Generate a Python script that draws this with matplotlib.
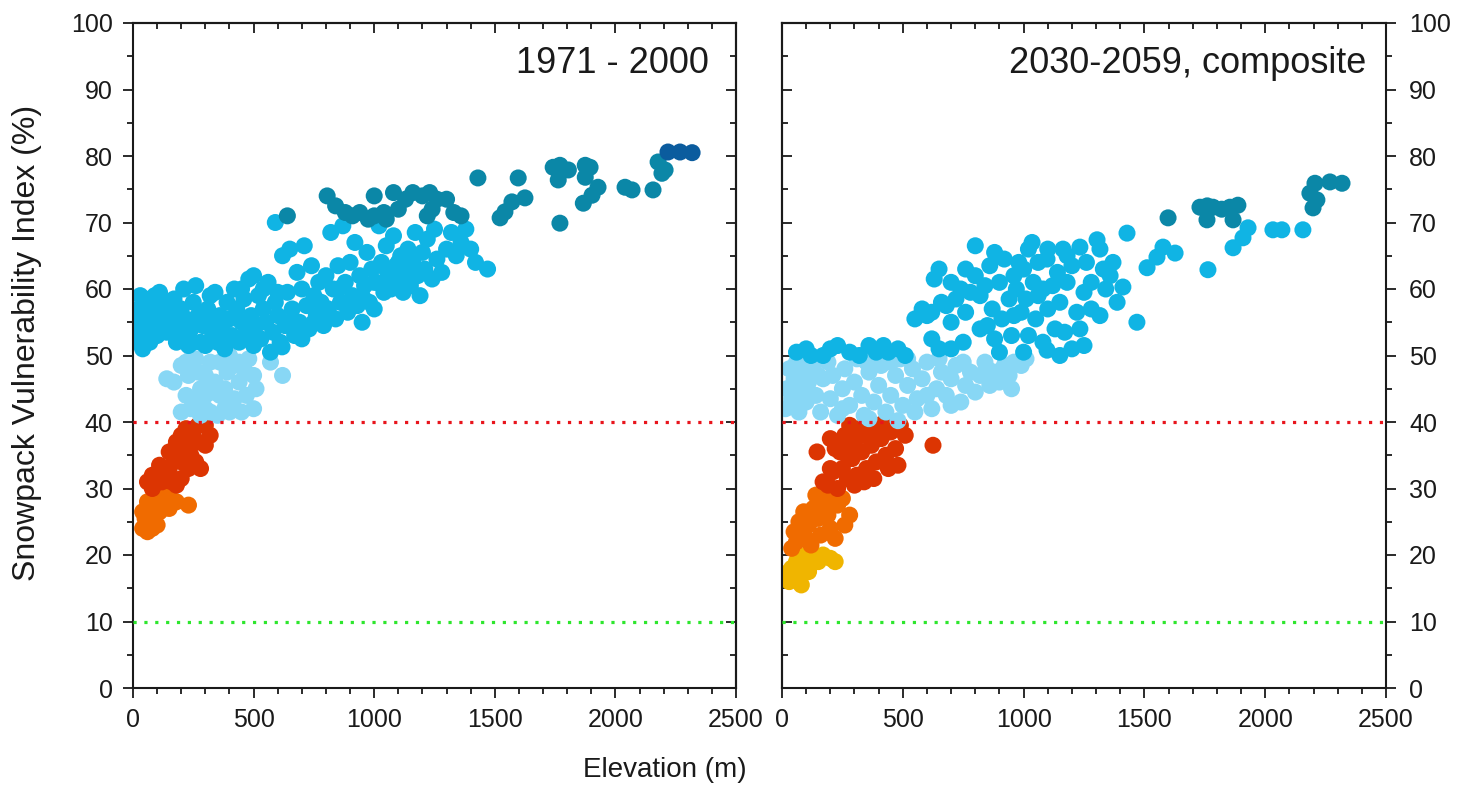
import numpy as np
import matplotlib
matplotlib.use("Agg")
import matplotlib.pyplot as plt
from matplotlib.ticker import MultipleLocator

plt.rcParams['font.family'] = ['Liberation Sans', 'DejaVu Sans']

# ---------------- data: (elevation m, SVI %) ----------------
# 1971 - 2000
hist_orange = [(40, 24), (60, 23.5), (80, 24), (100, 24.5), (50, 25.5), (70, 26), (90, 27), (110, 26.5),
               (130, 27.5), (60, 28), (90, 29), (150, 27), (180, 28), (230, 27.5), (40, 26.5), (120, 28.5),
               (100, 29.5), (70, 24.5), (150, 29)]
hist_red = [(60, 31), (80, 32), (100, 31.5), (120, 31), (140, 32.5), (160, 31), (180, 30.5), (200, 31.5),
            (80, 30), (110, 33.5), (150, 33), (170, 34.5), (190, 35.5), (210, 36), (230, 37.5), (250, 38.5),
            (270, 39.5), (200, 38), (180, 37), (220, 39), (240, 35), (260, 34), (280, 33), (300, 36.5),
            (320, 38), (300, 39.5), (150, 35.5), (230, 33), (270, 37), (200, 34)]
hist_lightblue = [(140, 46.5), (170, 46), (200, 48.5), (220, 44), (240, 42), (200, 41.5), (260, 43), (280, 45),
                  (300, 47), (320, 49), (340, 46), (360, 44), (380, 42), (400, 41.5), (420, 43.5), (440, 46),
                  (460, 48), (480, 49.5), (500, 47), (360, 49), (300, 42), (260, 49.5), (420, 48.5), (470, 44),
                  (500, 42), (330, 44.5), (390, 47.5), (450, 41.5), (230, 47), (270, 47.5), (570, 49), (620, 47),
                  (240, 49.5), (400, 50), (350, 41), (510, 45), (280, 41), (320, 41.5), (380, 45), (440, 49),
                  (300, 44), (220, 49)]
hist_blue = [(20, 52), (20, 55), (25, 57), (30, 53.5), (40, 51), (40, 56), (50, 58.5), (60, 54), (60, 57),
             (70, 52), (80, 55.5), (90, 59), (100, 57), (100, 53), (120, 55), (130, 58), (140, 53.5), (150, 56),
             (160, 54), (170, 58.5), (180, 52), (190, 55), (200, 57), (200, 53),
             (210, 60), (220, 55.5), (230, 51.5), (240, 54), (250, 58), (260, 60.5), (270, 56), (280, 52),
             (290, 54.5), (300, 51.5), (310, 57), (320, 55), (330, 53), (340, 59.5), (350, 52), (360, 56),
             (370, 54), (380, 51), (390, 58), (400, 55.5),
             (410, 53), (420, 60), (430, 57), (440, 52), (450, 55), (460, 58.5), (470, 53.5), (480, 61.5),
             (490, 56), (500, 51.5), (510, 54.5), (520, 59), (530, 52.5), (540, 57), (550, 55), (560, 61),
             (570, 50.5), (580, 53.5), (590, 58), (600, 56),
             (610, 52), (620, 65), (630, 54.5), (640, 59.5), (650, 66), (660, 57), (670, 53), (680, 62.5),
             (690, 55), (700, 60), (710, 66.5), (720, 57.5), (730, 54), (740, 63.5), (750, 59), (760, 56),
             (770, 61), (780, 58), (790, 54.5), (800, 62),
             (810, 57), (820, 68.5), (830, 60), (840, 55.5), (850, 63.5), (860, 58), (870, 69.5), (880, 61),
             (890, 56.5), (900, 64), (910, 59), (920, 67), (930, 57.5), (940, 62), (950, 55), (960, 60.5),
             (970, 65.5), (980, 58), (990, 63), (1000, 57),
             (1010, 61), (1020, 69.5), (1030, 64), (1040, 59.5), (1050, 66.5), (1060, 62), (1070, 60),
             (1080, 68), (1090, 63.5), (1100, 61), (1110, 65), (1120, 59.5), (1130, 62.5), (1140, 66),
             (1150, 60.5), (1160, 64), (1170, 68.5), (1180, 62), (1190, 59), (1200, 65.5),
             (1210, 63), (1220, 67.5), (1240, 61.5), (1250, 69), (1260, 64.5), (1280, 62.5), (1300, 66),
             (1320, 68.5), (1340, 65), (1360, 67), (1380, 69), (1400, 66), (1420, 64), (1470, 63),
             (590, 70), (618, 51.3),
             (30, 59), (110, 59.5), (160, 57), (250, 52), (320, 59), (450, 60), (500, 62), (540, 60),
             (600, 59.5), (650, 55), (700, 52.5), (750, 55), (800, 56), (850, 60), (900, 58), (950, 59),
             (1000, 61), (1050, 63), (1100, 64), (1150, 63)]
hist_teal = [(805, 74), (840, 72.5), (880, 71.5), (910, 71), (940, 71.5), (975, 70.5), (1000, 71), (1040, 71.5),
             (1080, 74.5), (1100, 72), (1130, 73.5), (1160, 74.5), (1200, 74), (1230, 74.5), (1260, 73.5),
             (1240, 72), (1220, 71), (1300, 73.5), (1330, 71.5), (1360, 71), (1430, 76.7), (640, 71),
             (1000, 74), (1050, 70.5),
             (1522, 70.7), (1542, 71.6), (1571, 73.1), (1597, 76.7), (1625, 73.7), (1742, 78.3), (1770, 78.6),
             (1763, 76.4), (1805, 77.9), (1770, 69.9), (1875, 78.6), (1895, 78.3), (1875, 76.8), (1867, 72.9),
             (1903, 74.1), (1928, 75.3), (2040, 75.3), (2069, 74.9), (2156, 74.9), (2177, 79.1), (2193, 77.4),
             (2206, 77.9)]
hist_darkblue = [(2218, 80.6), (2268, 80.6), (2318, 80.5)]

# 2030-2059, composite
fut_yellow = [(30, 16), (50, 16.5), (70, 17), (40, 18), (60, 19), (90, 18), (110, 17.5), (130, 19.5),
              (150, 19), (170, 20), (200, 19.5), (220, 19), (80, 15.5), (100, 20), (30, 17.5)]
fut_orange = [(40, 21), (60, 22), (80, 23), (100, 22.5), (70, 25), (90, 26.5), (110, 24.5), (130, 27),
              (150, 25.5), (170, 28), (190, 26), (210, 29), (230, 27.5), (250, 28.5), (120, 21.5), (160, 23),
              (200, 24), (280, 26), (260, 24.5), (140, 29), (180, 29.5), (50, 23.5), (220, 22.5)]
fut_red = [(145, 35.5), (200, 37.5), (170, 31), (190, 30.5), (210, 32.5), (230, 30), (250, 33), (270, 31.5),
           (290, 34.5), (310, 32), (330, 35.5), (350, 33), (370, 36.5), (390, 34), (410, 37.5), (430, 35),
           (450, 38.5), (470, 36), (490, 39.5), (510, 38), (260, 38), (280, 39.5), (300, 37), (320, 39),
           (360, 39.5), (400, 39.5), (240, 35.5), (220, 36), (340, 31), (440, 33), (480, 33.5), (625, 36.5),
           (380, 31.5), (300, 30.5), (420, 39.8), (250, 36.5), (330, 38), (380, 38.5), (460, 39.5),
           (200, 33), (270, 35)]
fut_lightblue = [(15, 42), (20, 45), (30, 48), (40, 43.5), (50, 46.5), (60, 49), (70, 41.5), (80, 44.5),
                 (90, 47.5), (100, 43), (110, 46), (130, 48.5), (140, 44), (160, 41.5), (170, 46.5), (190, 49),
                 (200, 43.5), (210, 47), (230, 41), (250, 45), (260, 48), (280, 42.5), (300, 46), (310, 49.5),
                 (330, 44), (340, 41), (360, 47.5), (380, 43), (400, 45.5), (410, 48.5), (430, 41.5), (450, 44),
                 (470, 47), (490, 49.5), (500, 42.5), (520, 45.5), (540, 48), (560, 43.5), (580, 46.5), (600, 49),
                 (620, 42), (640, 45), (660, 47.5), (680, 44), (700, 46.5), (720, 48.5), (740, 43), (760, 45.5),
                 (780, 47.5), (800, 44.5), (820, 47), (840, 49), (860, 45.5), (880, 47.5), (900, 46), (920, 48.5),
                 (940, 47), (960, 49), (990, 48.5), (1010, 49.5), (360, 40.5), (480, 40.2),
                 (100, 48.5), (150, 47), (250, 42), (350, 49), (450, 49), (550, 41.5), (650, 49.5), (750, 49),
                 (850, 48), (950, 45), (520, 49.5), (700, 42.5), (600, 44)]
fut_blue = [(60, 50.5), (100, 51), (120, 50), (170, 50), (200, 51), (230, 51.5), (280, 50.5), (320, 50),
            (360, 51.5), (390, 50.5), (420, 51.5), (440, 50.5), (480, 51), (510, 50),
            (550, 55.5), (580, 57), (600, 56), (630, 61.5), (650, 63), (680, 57.5), (700, 55), (720, 58.5),
            (740, 60), (760, 56.5), (780, 59.5), (800, 66.5), (800, 62), (820, 54), (840, 60.5), (860, 63.5),
            (870, 57), (880, 52.5), (900, 61), (910, 55.5), (920, 64.5), (940, 58.5), (950, 53), (960, 62),
            (970, 60), (980, 64), (990, 56.5), (1000, 63), (1010, 58.5), (1020, 53), (1035, 67), (1040, 61),
            (1050, 55.5), (1060, 59), (1080, 52), (1097, 64.5), (1100, 66), (1100, 57), (1120, 60.5),
            (1130, 54), (1140, 62.5), (1150, 58), (1163, 66), (1170, 53.5), (1180, 61), (1200, 51),
            (1200, 63.5), (1220, 56.5), (1233, 66.3), (1233, 54), (1250, 59.5), (1260, 64), (1280, 61),
            (1304, 67.4), (1316, 66), (1316, 56), (1330, 63), (1358, 62), (1370, 64), (1387, 58), (1411, 60.3),
            (1428, 68.4), (1469, 55), (1511, 63.2), (1552, 64.8), (1577, 66.3), (1627, 65.4), (1763, 62.9),
            (1929, 69.2), (1908, 67.7), (1867, 66.2), (2032, 68.9), (2069, 68.9), (2156, 68.9), (1097, 50.8),
            (750, 52), (650, 51), (620, 52.5), (700, 51), (1000, 50.5), (1150, 50), (900, 50.5), (850, 54.5),
            (960, 56), (1060, 64), (1250, 51.5),
            (620, 56.5), (660, 58), (700, 61), (760, 63), (820, 59), (880, 65.5), (1020, 66), (1080, 60),
            (1180, 65), (1280, 57), (1340, 60)]
fut_teal = [(1598, 70.7), (1730, 72.3), (1784, 72.3), (1854, 72.3), (1887, 72.6), (1759, 70.4), (1867, 70.4),
            (2185, 74.4), (2198, 72.2), (2214, 73.4), (2206, 75.9), (2268, 76.1), (2318, 75.9), (1760, 72.5),
            (1820, 72)]

panel_titles = ['1971 - 2000', '2030-2059, composite']
x_ticks = [0, 500, 1000, 1500, 2000, 2500]
y_ticks = [0, 10, 20, 30, 40, 50, 60, 70, 80, 90, 100]
threshold_red = 40
threshold_green = 10

C = {'darkblue': '#0b5c9e', 'teal': '#0b87a7', 'blue': '#10b4e4', 'lightblue': '#88d7f5',
     'red': '#dc3502', 'orange': '#f06b00', 'yellow': '#f0b500'}

panels = [
    [(hist_orange, 'orange'), (hist_red, 'red'), (hist_lightblue, 'lightblue'), (hist_blue, 'blue'),
     (hist_teal, 'teal'), (hist_darkblue, 'darkblue')],
    [(fut_yellow, 'yellow'), (fut_orange, 'orange'), (fut_red, 'red'), (fut_lightblue, 'lightblue'),
     (fut_blue, 'blue'), (fut_teal, 'teal')],
]

fig = plt.figure(figsize=(14.57, 7.96), dpi=100)
axes = [fig.add_axes([133 / 1457, 1 - 688 / 796, 603 / 1457, 665 / 796]),
        fig.add_axes([782 / 1457, 1 - 688 / 796, 604 / 1457, 665 / 796])]

ink = '#1a1a1a'
for i, ax in enumerate(axes):
    for data, cname in panels[i]:
        arr = np.array(data, dtype=float)
        ax.scatter(arr[:, 0], arr[:, 1], s=150, c=C[cname], edgecolors='none', zorder=2)
    ax.axhline(threshold_red, color='#e8141c', lw=2.3, linestyle=(0, (1.0, 2.4)), zorder=3)
    ax.axhline(threshold_green, color='#2ee62e', lw=2.3, linestyle=(0, (1.0, 2.4)), zorder=3)
    ax.set_xlim(0, 2500)
    ax.set_ylim(0, 100)
    ax.set_xticks(x_ticks)
    ax.set_yticks(y_ticks)
    ax.xaxis.set_minor_locator(MultipleLocator(100))
    ax.yaxis.set_minor_locator(MultipleLocator(5))
    for sp in ax.spines.values():
        sp.set_linewidth(1.5)
        sp.set_color(ink)
    ax.tick_params(which='both', colors=ink, width=1.3, labelsize=18, labelcolor=ink)
    ax.tick_params(which='major', length=7.5)
    ax.tick_params(which='minor', length=4.5)
    ax.tick_params(axis='x', which='both', direction='out', bottom=True, top=False, pad=7)
    # top ticks pointing inward
    sx = ax.secondary_xaxis('top')
    sx.set_xticks(x_ticks)
    sx.xaxis.set_minor_locator(MultipleLocator(100))
    sx.tick_params(which='both', direction='in', labeltop=False, colors=ink, width=1.3)
    sx.tick_params(which='major', length=7.5)
    sx.tick_params(which='minor', length=4.5)
    sx.spines['top'].set_linewidth(1.5)
    if i == 0:
        ax.tick_params(axis='y', which='both', direction='out', left=True, right=False, pad=7)
        sy = ax.secondary_yaxis('right')
        sy.tick_params(which='both', direction='in', labelright=False)
    else:
        ax.tick_params(axis='y', which='both', direction='out', left=False, right=True,
                       labelleft=False, labelright=True, pad=9)
        sy = ax.secondary_yaxis('left')
        sy.tick_params(which='both', direction='in', labelleft=False)
    sy.set_yticks(y_ticks)
    sy.yaxis.set_minor_locator(MultipleLocator(5))
    sy.tick_params(which='both', colors=ink, width=1.3)
    sy.tick_params(which='major', length=7.5)
    sy.tick_params(which='minor', length=4.5)
    for sp in sy.spines.values():
        sp.set_linewidth(1.5)
    ax.text(0.955 if i == 0 else 0.968, 0.966, panel_titles[i], transform=ax.transAxes,
            ha='right', va='top', fontsize=26, color=ink, zorder=5)

fig.text(0.4565, 0.033, 'Elevation (m)', ha='center', va='center', fontsize=20, color=ink)
fig.text(0.0185, 0.569, 'Snowpack Vulnerability Index (%)', ha='center', va='center',
         rotation=90, fontsize=23, color=ink)

fig.savefig('out.png', dpi=100)
